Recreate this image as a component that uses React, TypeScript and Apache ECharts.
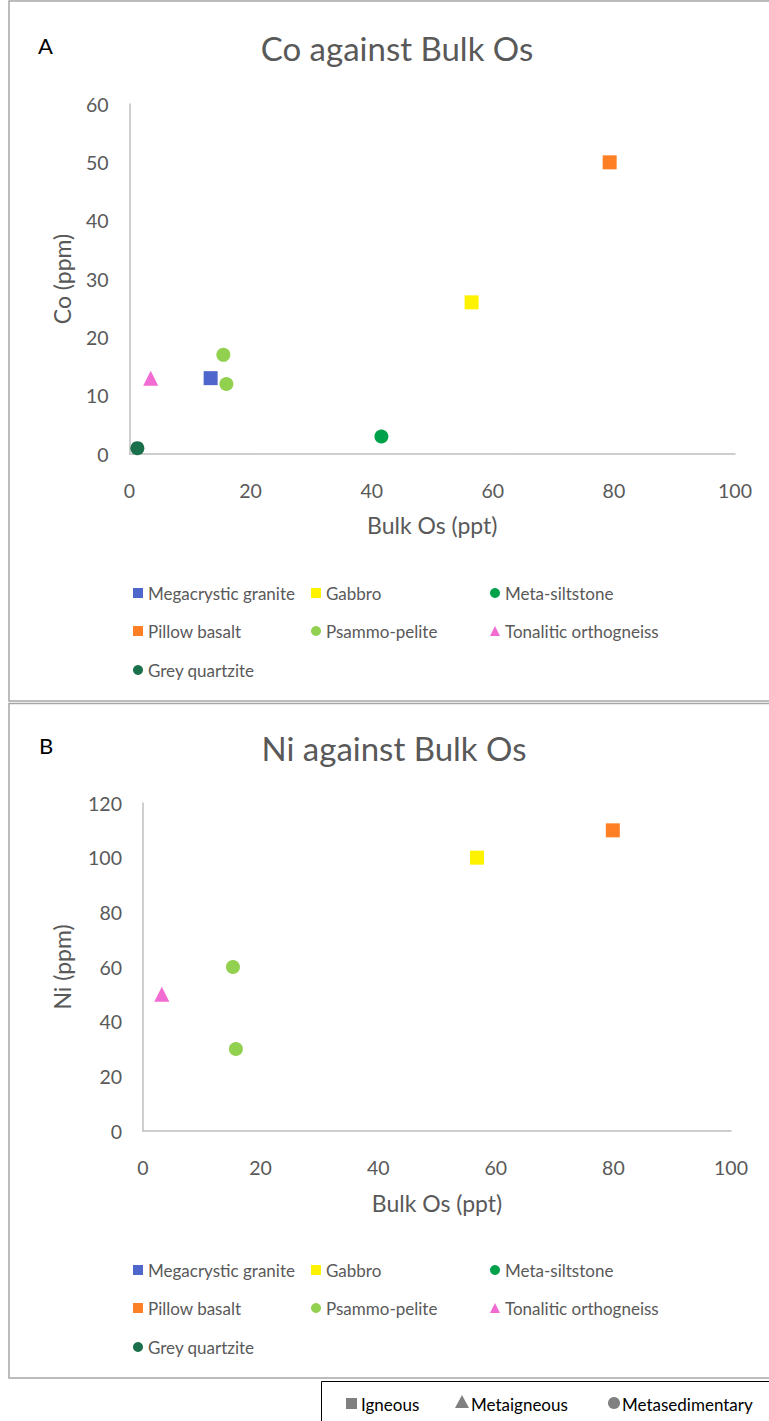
import React, { useEffect, useRef } from "react";
import * as echarts from "echarts";

// Rock types, marker shapes and colours (shared by both panels)
const rockTypes = [
  "Megacrystic granite",
  "Gabbro",
  "Meta-siltstone",
  "Pillow basalt",
  "Psammo-pelite",
  "Tonalitic orthogneiss",
  "Grey quartzite",
];
const rockSymbols = ["rect", "rect", "circle", "rect", "circle", "triangle", "circle"];
const rockColors = ["#4F67CD", "#FFF200", "#00A14B", "#FF7F24", "#92D050", "#F26BD3", "#19704A"];

// Panel A: Co (ppm) against bulk Os (ppt)
const megacrysticGraniteCo = [[13.4, 13]];
const gabbroCo = [[56.5, 26]];
const metaSiltstoneCo = [[41.6, 3]];
const pillowBasaltCo = [[79.3, 50]];
const psammoPeliteCo = [[15.5, 17], [16.0, 12]];
const tonaliticOrthogneissCo = [[3.5, 13]];
const greyQuartziteCo = [[1.3, 1]];

// Panel B: Ni (ppm) against bulk Os (ppt)
const megacrysticGraniteNi: number[][] = [];
const gabbroNi = [[56.8, 100]];
const metaSiltstoneNi: number[][] = [];
const pillowBasaltNi = [[79.9, 110]];
const psammoPeliteNi = [[15.3, 60], [15.8, 30]];
const tonaliticOrthogneissNi = [[3.2, 50]];
const greyQuartziteNi: number[][] = [];

const coSets = [megacrysticGraniteCo, gabbroCo, metaSiltstoneCo, pillowBasaltCo, psammoPeliteCo, tonaliticOrthogneissCo, greyQuartziteCo];
const niSets = [megacrysticGraniteNi, gabbroNi, metaSiltstoneNi, pillowBasaltNi, psammoPeliteNi, tonaliticOrthogneissNi, greyQuartziteNi];

// Axis ranges: [min, max, interval]
const bulkOsAxis = [0, 100, 20];
const coAxis = [0, 60, 10];
const niAxis = [0, 120, 20];

// Bottom key of rock classes
const classNames = ["Igneous", "Metaigneous", "Metasedimentary"];

const FONT = "Lato, 'Noto Sans', sans-serif";
const GREY_TEXT = "#595959";
const AXIS_LINE = "#BFBFBF";

export default function App() {
  const ref = useRef<HTMLDivElement>(null);

  useEffect(() => {
    if (!ref.current) return;
    const chart = echarts.init(ref.current, undefined, { renderer: "svg" });

    const makeAxes = (gridIndex: number, yName: string, yRange: number[], yNameGap: number, xNameGap: number) => ({
      x: {
        type: "value",
        gridIndex,
        min: bulkOsAxis[0],
        max: bulkOsAxis[1],
        interval: bulkOsAxis[2],
        name: "Bulk Os (ppt)",
        nameLocation: "middle",
        nameGap: xNameGap,
        nameTextStyle: { fontSize: 23, color: GREY_TEXT, fontFamily: FONT },
        axisLine: { show: true, lineStyle: { color: AXIS_LINE, width: 1.5 } },
        axisTick: { show: false },
        splitLine: { show: false },
        axisLabel: { fontSize: 19.5, color: GREY_TEXT, fontFamily: FONT, margin: 26 },
      },
      y: {
        type: "value",
        gridIndex,
        min: yRange[0],
        max: yRange[1],
        interval: yRange[2],
        name: yName,
        nameLocation: "middle",
        nameGap: yNameGap,
        nameTextStyle: { fontSize: 23, color: GREY_TEXT, fontFamily: FONT },
        axisLine: { show: true, lineStyle: { color: AXIS_LINE, width: 1.5 } },
        axisTick: { show: false },
        splitLine: { show: false },
        axisLabel: { fontSize: 19.5, color: GREY_TEXT, fontFamily: FONT, margin: 21 },
      },
    });

    const axesA = makeAxes(0, "Co (ppm)", coAxis, 56, 59.5);
    const axesB = makeAxes(1, "Ni (ppm)", niAxis, 70, 60.5);

    const series: any[] = [];
    rockTypes.forEach((name, i) => {
      const common = {
        type: "scatter",
        name,
        symbol: rockSymbols[i],
        symbolSize: rockSymbols[i] === "triangle" ? 15 : 14,
        itemStyle: { color: rockColors[i], opacity: 1 },
      };
      series.push({ ...common, xAxisIndex: 0, yAxisIndex: 0, data: coSets[i] });
      series.push({ ...common, xAxisIndex: 1, yAxisIndex: 1, data: niSets[i] });
    });

    // One legend entry per rock type, laid out in three columns
    const colX = [133, 311, 490];
    const legendFor = (rowTops: number[]) =>
      rockTypes.map((name, i) => ({
        data: [name],
        left: colX[i % 3],
        top: rowTops[Math.floor(i / 3)],
        padding: 0,
        itemWidth: 10,
        itemHeight: 10,
        selectedMode: false,
        textStyle: { fontSize: 17, color: GREY_TEXT, fontFamily: FONT },
      }));

    const classSymbols: any[] = [
      { type: "rect", shape: { x: 346, y: 1398, width: 11, height: 11 }, style: { fill: "#808080" } },
      { type: "polygon", shape: { points: [[462, 1395], [455, 1408], [469, 1408]] }, style: { fill: "#808080" } },
      { type: "circle", shape: { cx: 614, cy: 1403, r: 6 }, style: { fill: "#808080" } },
    ];
    const classTextX = [361, 471, 622];

    const option: any = {
      animation: false,
      backgroundColor: "#ffffff",
      title: [
        {
          text: "Co against Bulk Os",
          left: 392,
          top: 26,
          textAlign: "center",
          textStyle: { fontSize: 33, fontWeight: "normal", color: GREY_TEXT, fontFamily: FONT },
        },
        {
          text: "Ni against Bulk Os",
          left: 389,
          top: 726,
          textAlign: "center",
          textStyle: { fontSize: 33, fontWeight: "normal", color: GREY_TEXT, fontFamily: FONT },
        },
      ],
      grid: [
        { left: 129.5, top: 104, width: 605.5, height: 350, containLabel: false },
        { left: 143, top: 803, width: 588, height: 328, containLabel: false },
      ],
      xAxis: [axesA.x, axesB.x],
      yAxis: [axesA.y, axesB.y],
      legend: [...legendFor([584.5, 622.5, 661.5]), ...legendFor([1261.5, 1299.5, 1338.5])],
      series,
      graphic: [
        {
          type: "rect",
          shape: { x: 9, y: 1, width: 800, height: 700 },
          style: { fill: "none", stroke: "#A6A6A6", lineWidth: 1.5 },
          silent: true,
        },
        {
          type: "rect",
          shape: { x: 9, y: 703.5, width: 800, height: 674.5 },
          style: { fill: "none", stroke: "#A6A6A6", lineWidth: 1.5 },
          silent: true,
        },
        {
          type: "text",
          left: 38,
          top: 34,
          style: { text: "A", fontSize: 22, fill: "#000000", fontFamily: FONT },
        },
        {
          type: "text",
          left: 39,
          top: 734,
          style: { text: "B", fontSize: 22, fill: "#000000", fontFamily: FONT },
        },
        {
          type: "rect",
          shape: { x: 321.5, y: 1381.5, width: 500, height: 100 },
          style: { fill: "#ffffff", stroke: "#000000", lineWidth: 1 },
          silent: true,
        },
        ...classSymbols,
        ...classNames.map((t, i) => ({
          type: "text",
          x: classTextX[i],
          y: 1404,
          style: { text: t, fontSize: 17, fill: "#000000", fontFamily: FONT, textVerticalAlign: "middle" },
        })),
      ],
    };

    chart.setOption(option);
    return () => chart.dispose();
  }, []);

  return (
    <div
      ref={ref}
      style={{ position: "absolute", left: 0, top: 0, width: 769, height: 1421, background: "#ffffff" }}
    />
  );
}
